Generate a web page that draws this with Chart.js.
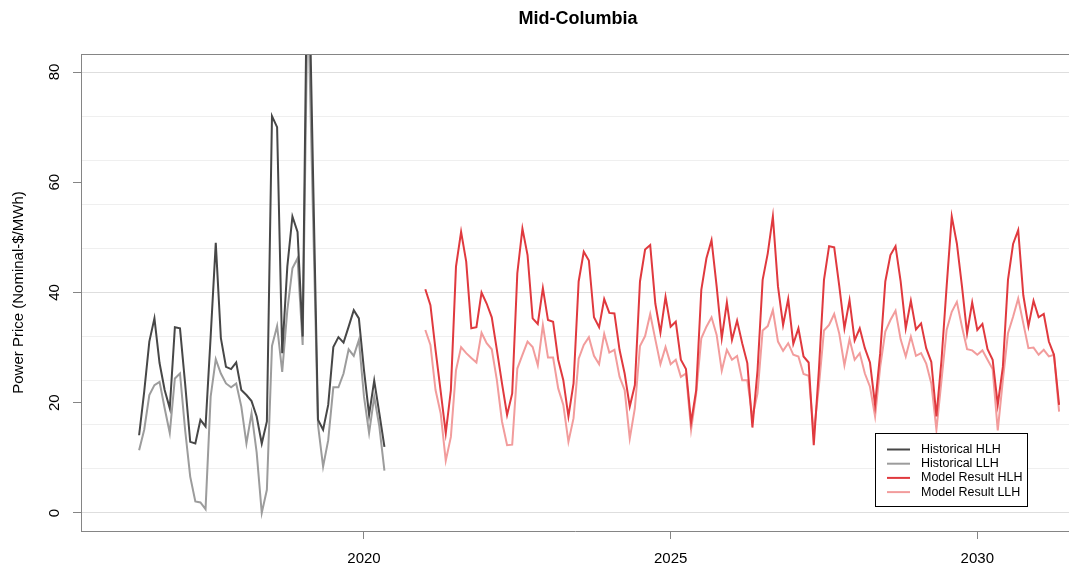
<!DOCTYPE html>
<html>
<head>
<meta charset="utf-8">
<script src="https://cdn.jsdelivr.net/npm/chart.js@4.4.1/dist/chart.umd.min.js"></script>
<style>
  html, body { margin: 0; padding: 0; background: #fff; }
  #wrap { width: 1069px; height: 571px; }
</style>
</head>
<body>
<div id="wrap"><canvas id="chart"></canvas></div>
<script>
// chart text
var chartTitle = 'Mid-Columbia';
var yTitle = 'Power Price (Nominal-$/MWh)';
var seriesNames = ['Historical HLH', 'Historical LLH', 'Model Result HLH', 'Model Result LLH'];
var seriesColors = ['#474747', '#9c9c9c', '#e0393e', '#f29c9c'];

// monthly series: first month of each block
var histStart = [2016, 5];   // May 2016
var modelStart = [2021, 1];  // Jan 2021

// tick labels
var xTicks = [2020, 2025, 2030];
var yTicks = [0, 20, 40, 60, 80];
var yGridLines = [0, 8, 16, 24, 32, 40, 48, 56, 64, 72, 80];

// values ($/MWh)
var histHLH = [14.1, 22, 31.1, 35.3, 27.2, 22.3, 19.0, 33.7, 33.5, 23.5,
  12.9, 12.6, 16.9, 15.7, 32, 49.0, 31.7, 26.5, 26.1, 27.3,
  22.3, 21.4, 20.3, 17.5, 12.6, 16.6, 72.0, 70.0, 29.0, 44.7,
  53.8, 51.0, 32.0, 110, 63, 16.9, 15.1, 19.6, 30.1, 31.9,
  30.9, 33.8, 36.8, 35.3, 25.9, 17.8, 24.0, 18.1, 12.0];
var histLLH = [11.4, 15.1, 21.4, 23.2, 23.8, 19.0, 14.5, 24.4, 25.3, 15.1,
  6.6, 2.1, 1.9, 0.7, 21.1, 27.9, 25.3, 23.5, 22.8, 23.5,
  19.3, 12.6, 18.1, 11, 0, 4.2, 30.3, 33.9, 25.6, 36.8,
  44.4, 46.2, 30.5, 95, 55, 16, 8.4, 13.2, 22.8, 22.8,
  25.3, 29.7, 28.5, 31.4, 21.1, 14.5, 21.1, 15.7, 7.7];
var modelHLH = [40.6, 37.7, 29.6, 22.1, 14.5, 22.3, 44.7, 51.0, 45.6, 33.5,
  33.7, 40.0, 38.0, 35.5, 29.6, 23.5, 17.8, 21.7, 43.5, 51.6,
  46.8, 35.3, 34.3, 40.8, 35.0, 34.7, 27.8, 24.1, 17.5, 23.5,
  42.0, 47.4, 45.8, 35.5, 33.7, 38.8, 36.3, 36.2, 29.6, 25.3,
  19.3, 23.2, 42.0, 47.8, 48.6, 38.0, 32.7, 39.2, 33.8, 34.7,
  27.8, 26.1, 16.4, 22.3, 40.5, 46.2, 49.5, 41.1, 31.7, 38.2,
  31.4, 34.9, 30.8, 27.2, 15.5, 25.9, 42.3, 47.1, 53.8, 41.1,
  34.1, 38.8, 30.7, 33.5, 28.4, 27.3, 12.3, 25.9, 42.3, 48.4,
  48.2, 41.1, 33.5, 38.6, 31.3, 33.5, 29.9, 27.3, 19.6, 29.0,
  42.0, 46.8, 48.4, 42.0, 33.5, 38.5, 33.3, 34.4, 29.9, 27.4,
  17.5, 27.8, 41.1, 53.8, 48.9, 41.1, 32.6, 38.2, 33.2, 34.3,
  29.7, 27.8, 19.6, 26.5, 42.3, 48.8, 51.3, 39.5, 33.9, 38.5,
  35.5, 36.1, 31.1, 28.7, 19.6];
var modelLLH = [33.2, 30.5, 22.3, 18.1, 9.5, 13.8, 25.9, 30.1, 29.0, 28.1,
  27.3, 32.7, 30.8, 29.7, 24.1, 16.6, 12.3, 12.4, 26.2, 28.7,
  31.1, 30.1, 26.8, 34.1, 28.2, 28.2, 22.6, 19.6, 12.9, 17.2,
  28.0, 30.5, 31.9, 28.5, 27.0, 32.5, 29.1, 29.6, 24.7, 22.3,
  13.5, 19.0, 30.3, 32.1, 36.1, 31.5, 27.0, 30.1, 27.0, 27.8,
  24.7, 25.3, 15.1, 21.7, 31.7, 33.8, 35.5, 32.3, 25.8, 29.6,
  27.8, 28.5, 24.1, 24.1, 17.4, 21.7, 33.1, 33.9, 36.8, 31.1,
  29.4, 30.8, 28.7, 28.4, 25.2, 24.9, 14.5, 22.9, 33.1, 34.1,
  36.1, 32.5, 26.8, 31.5, 27.8, 29.0, 25.3, 22.9, 17.5, 26.5,
  32.9, 35.0, 36.7, 31.5, 28.4, 32.0, 28.5, 29.0, 27.1, 23.5,
  15.1, 24.1, 33.2, 36.5, 38.3, 33.8, 29.7, 29.5, 28.7, 29.5,
  27.8, 26.1, 15.0, 24.1, 32.6, 35.6, 38.9, 34.4, 29.9, 30.0,
  28.7, 29.6, 28.4, 28.7, 18.4];

var FONT = '"Liberation Sans", Arial, sans-serif';

// turn a monthly series into {x: decimal year, y}
function toPoints(start, values) {
  return values.map(function (v, i) {
    return { x: start[0] + (start[1] - 1 + i) / 12, y: v };
  });
}

var seriesData = [
  toPoints(histStart, histHLH),
  toPoints(histStart, histLLH),
  toPoints(modelStart, modelHLH),
  toPoints(modelStart, modelLLH)
];

// title, top frame line and boxed legend
var decorations = {
  id: 'decorations',
  afterDraw: function (chart) {
    var ctx = chart.ctx, a = chart.chartArea;
    ctx.save();
    ctx.strokeStyle = '#858585';
    ctx.lineWidth = 1;
    ctx.beginPath();
    ctx.moveTo(a.left, a.top + 0.5);
    ctx.lineTo(a.right, a.top + 0.5);
    ctx.stroke();

    ctx.fillStyle = '#000';
    ctx.font = 'bold 18px ' + FONT;
    ctx.textAlign = 'center';
    ctx.textBaseline = 'alphabetic';
    ctx.fillText(chartTitle, 578, 24);

    // legend
    var bx = 875.5, by = 433.5, bw = 152, bh = 73;
    ctx.fillStyle = '#fff';
    ctx.fillRect(bx, by, bw, bh);
    ctx.strokeStyle = '#000';
    ctx.strokeRect(bx, by, bw, bh);
    ctx.font = '12.5px ' + FONT;
    ctx.textAlign = 'left';
    ctx.textBaseline = 'middle';
    chart.data.datasets.forEach(function (ds, i) {
      var ly = 449.5 + i * 14.2;
      ctx.strokeStyle = ds.borderColor;
      ctx.lineWidth = 2;
      ctx.beginPath();
      ctx.moveTo(887, ly);
      ctx.lineTo(910, ly);
      ctx.stroke();
      ctx.fillStyle = '#000';
      ctx.fillText(ds.label, 921, ly);
    });
    ctx.restore();
  }
};

var ctx = document.getElementById('chart').getContext('2d');
var chart = new Chart(ctx, {
  type: 'line',
  data: {
    datasets: seriesNames.map(function (name, i) {
      return {
        label: name,
        data: seriesData[i],
        borderColor: seriesColors[i],
        backgroundColor: seriesColors[i],
        borderWidth: 2,
        pointRadius: 0,
        tension: 0,
        clip: 0
      };
    })
  },
  options: {
    responsive: true,
    maintainAspectRatio: false,
    animation: false,
    layout: { padding: { top: 54, left: 0, right: 0, bottom: 0 } },
    plugins: {
      legend: { display: false },
      title: { display: false },
      tooltip: { enabled: false }
    },
    scales: {
      x: {
        type: 'linear',
        position: 'bottom',
        min: 2015.386,
        max: 2031.495,
        afterBuildTicks: function (s) { s.ticks = xTicks.map(function (v) { return { value: v }; }); },
        afterFit: function (s) { s.height = 40; },
        ticks: {
          color: '#000',
          font: { family: FONT, size: 15 },
          padding: 11,
          maxRotation: 0,
          callback: function (v) { return String(v); }
        },
        grid: { drawOnChartArea: false, drawTicks: true, tickLength: 8, color: '#858585' },
        border: { display: true, color: '#858585' }
      },
      y: {
        type: 'linear',
        position: 'left',
        min: -3.27,
        max: 83.27,
        afterBuildTicks: function (s) { s.ticks = yTicks.map(function (v) { return { value: v }; }); },
        afterFit: function (s) { s.width = 81; },
        ticks: {
          color: '#000',
          font: { family: FONT, size: 15 },
          padding: 10,
          minRotation: 90,
          maxRotation: 90,
          crossAlign: 'center',
          callback: function (v) { return String(v); }
        },
        grid: { drawOnChartArea: false, drawTicks: true, tickLength: 8, color: '#858585' },
        border: { display: true, color: '#858585' },
        title: {
          display: true,
          text: yTitle,
          color: '#000',
          font: { family: FONT, size: 15 },
          padding: { top: 10, bottom: 0 }
        }
      },
      yGrid: {
        type: 'linear',
        position: 'right',
        min: -3.27,
        max: 83.27,
        afterBuildTicks: function (s) { s.ticks = yGridLines.map(function (v) { return { value: v }; }); },
        afterFit: function (s) { s.width = 0; },
        ticks: { display: false },
        grid: {
          drawTicks: false,
          color: function (c) { return c.tick && c.tick.value % 40 === 0 ? '#dedede' : '#efefef'; }
        },
        border: { display: false }
      }
    }
  },
  plugins: [decorations]
});
</script>
</body>
</html>
